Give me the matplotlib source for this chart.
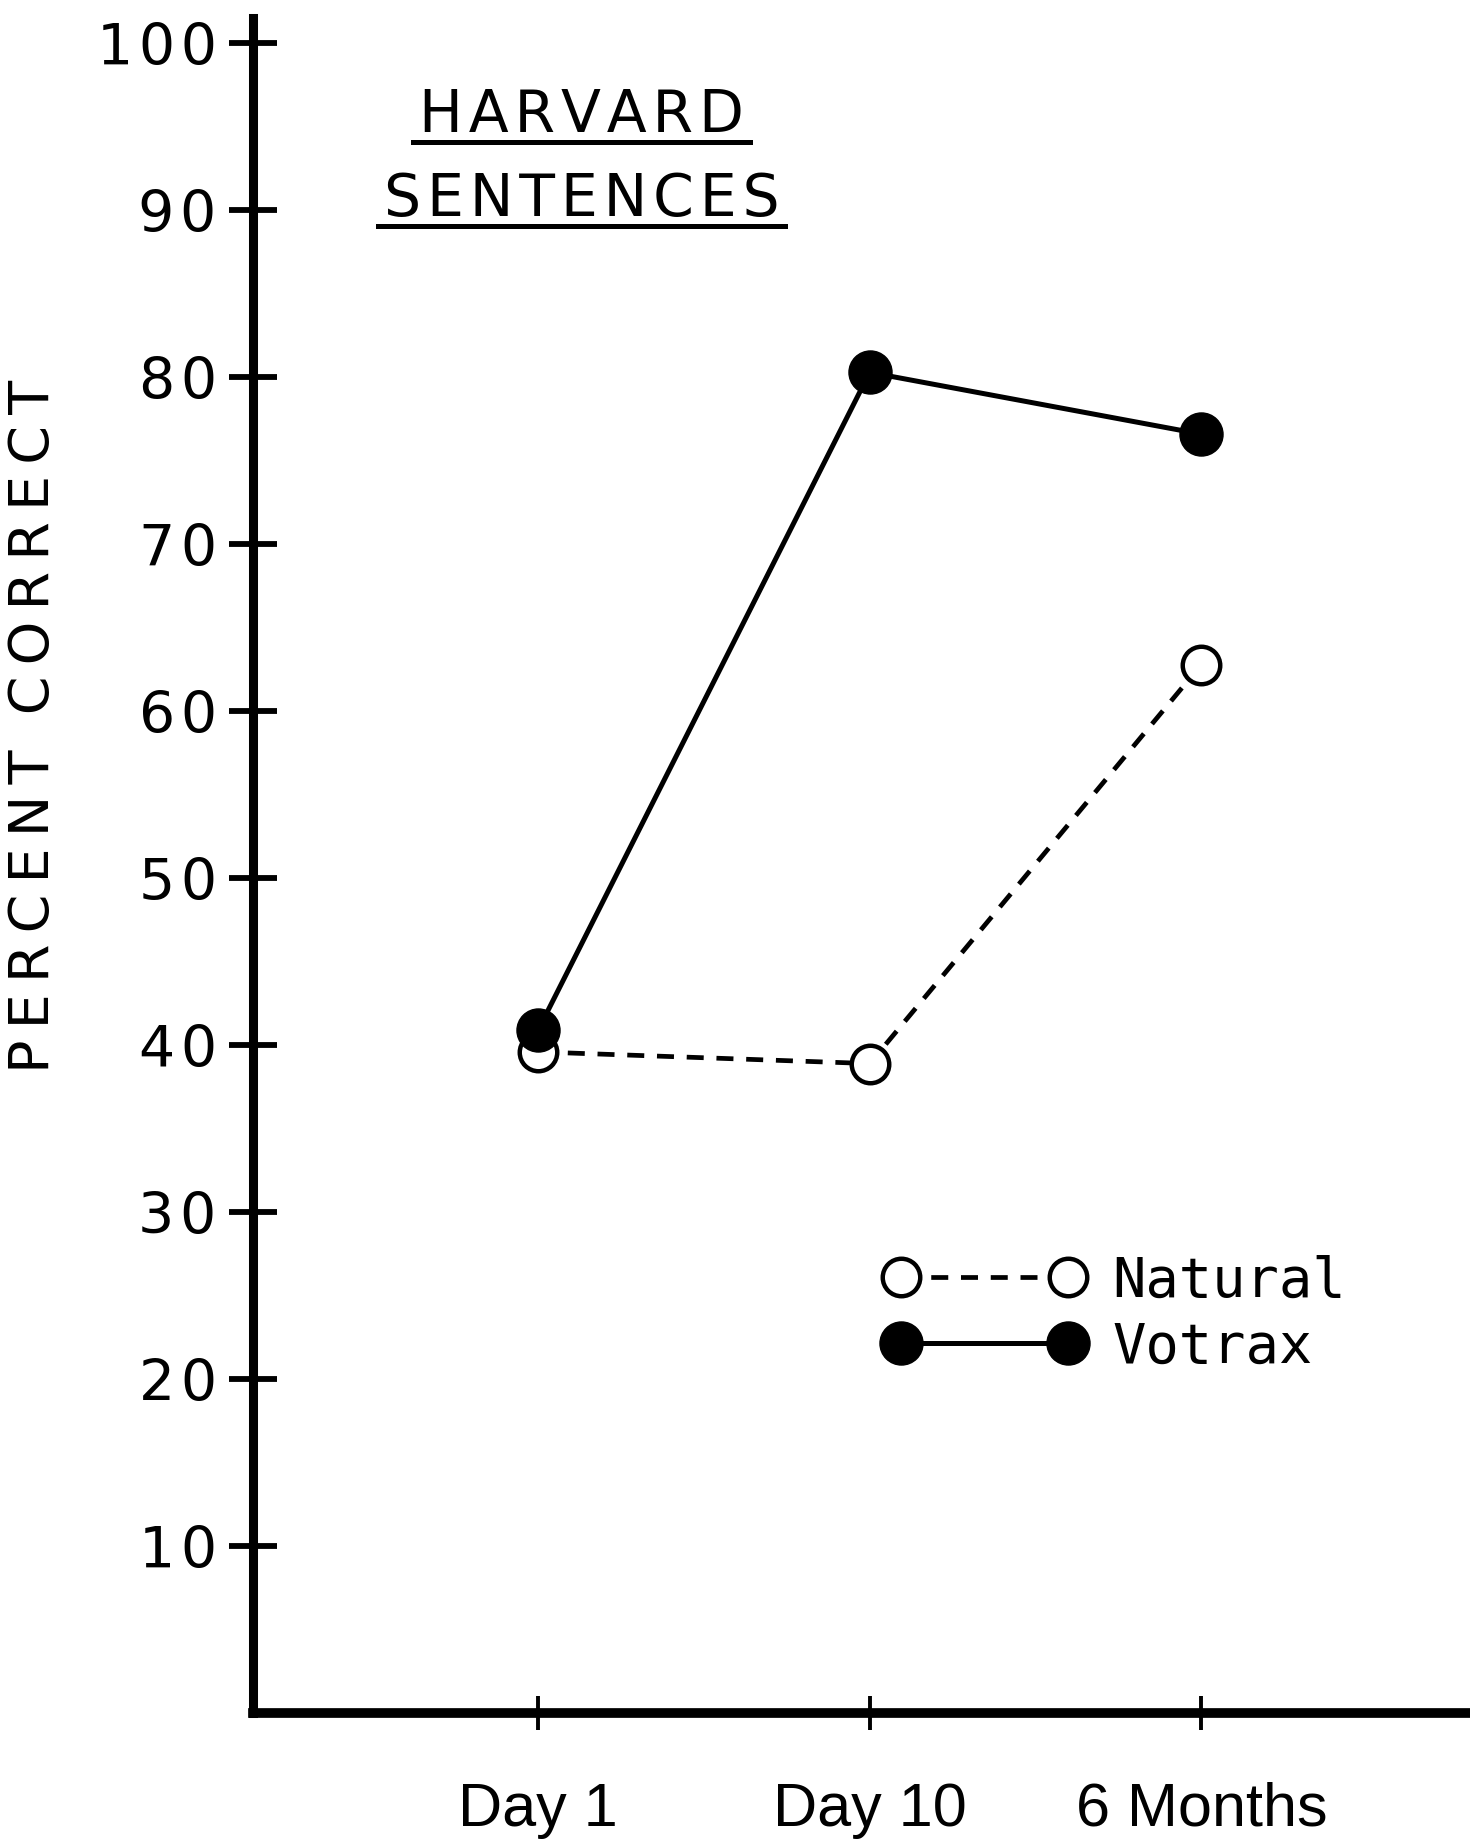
import matplotlib

matplotlib.use("Agg")

import matplotlib.pyplot as plt
from matplotlib.lines import Line2D

# data
sessions = ["Day 1", "Day 10", "6 Months"]
natural = [39.6, 38.9, 62.8]
votrax = [40.9, 80.3, 76.6]
y_ticks = [10, 20, 30, 40, 50, 60, 70, 80, 90, 100]


def spaced(s, sep="\u200a"):
    # crude letter spacing
    return sep.join(s)


fig = plt.figure(figsize=(14.7, 18.42), dpi=100)
ax = fig.add_axes([0.172, 0.070, 0.828, 0.920])

x = list(range(len(sessions)))

# natural first so the filled votrax point sits on top at Day 1
ax.plot(
    x,
    natural,
    color="black",
    linewidth=3.4,
    linestyle=(0, (3.6, 2.7)),
    marker="o",
    markersize=27,
    markerfacecolor="white",
    markeredgecolor="black",
    markeredgewidth=3.2,
    label="Natural",
    zorder=3,
)
ax.plot(
    x,
    votrax,
    color="black",
    linewidth=3.6,
    linestyle="-",
    marker="o",
    markersize=31,
    markerfacecolor="black",
    markeredgecolor="black",
    label="Votrax",
    zorder=4,
)

ax.set_xlim(-0.86, 2.81)
ax.set_ylim(0, 101.5)

ax.set_xticks(x)
ax.set_xticklabels(sessions, fontsize=44, family="Liberation Sans")
ax.set_yticks(y_ticks)
ax.set_yticklabels([spaced(str(v)) for v in y_ticks], fontsize=41, family="DejaVu Sans")

ax.tick_params(axis="x", direction="inout", length=25, width=2.8, pad=37)
ax.tick_params(axis="y", direction="inout", length=34, width=4.2, pad=9)

for side in ["top", "right"]:
    ax.spines[side].set_visible(False)
ax.spines["left"].set_linewidth(6.5)
ax.spines["bottom"].set_linewidth(7)

ax.set_ylabel(spaced("PERCENT", "\u2009") + "  " + spaced("CORRECT", "\u2009"),
              fontsize=40, family="DejaVu Sans")
ax.yaxis.set_label_coords(-0.158, 0.582)

# title block with underlines
t1 = ax.text(0.270, 0.943, spaced("HARVARD"), transform=ax.transAxes,
             ha="center", va="center", fontsize=42, family="DejaVu Sans")
t2 = ax.text(0.270, 0.893, spaced("SENTENCES"), transform=ax.transAxes,
             ha="center", va="center", fontsize=42, family="DejaVu Sans")

leg = ax.legend(
    loc="center left",
    bbox_to_anchor=(0.519, 0.235),
    frameon=False,
    numpoints=2,
    handlelength=3.6,
    handletextpad=0.5,
    labelspacing=0.22,
    borderpad=0,
    borderaxespad=0,
    prop={"family": "DejaVu Sans Mono", "size": 40},
)

# underline the title words, using their rendered extents
fig.canvas.draw()
inv = fig.transFigure.inverted()
for t in [t1, t2]:
    bb = t.get_window_extent()
    (x0, y0), (x1, _) = inv.transform([(bb.x0 - 6, bb.y0 + 2), (bb.x1 + 6, bb.y1)])
    fig.add_artist(Line2D([x0, x1], [y0, y0], transform=fig.transFigure,
                          color="black", linewidth=3.6))

fig.savefig("out.png", dpi=100)
plt.close()
